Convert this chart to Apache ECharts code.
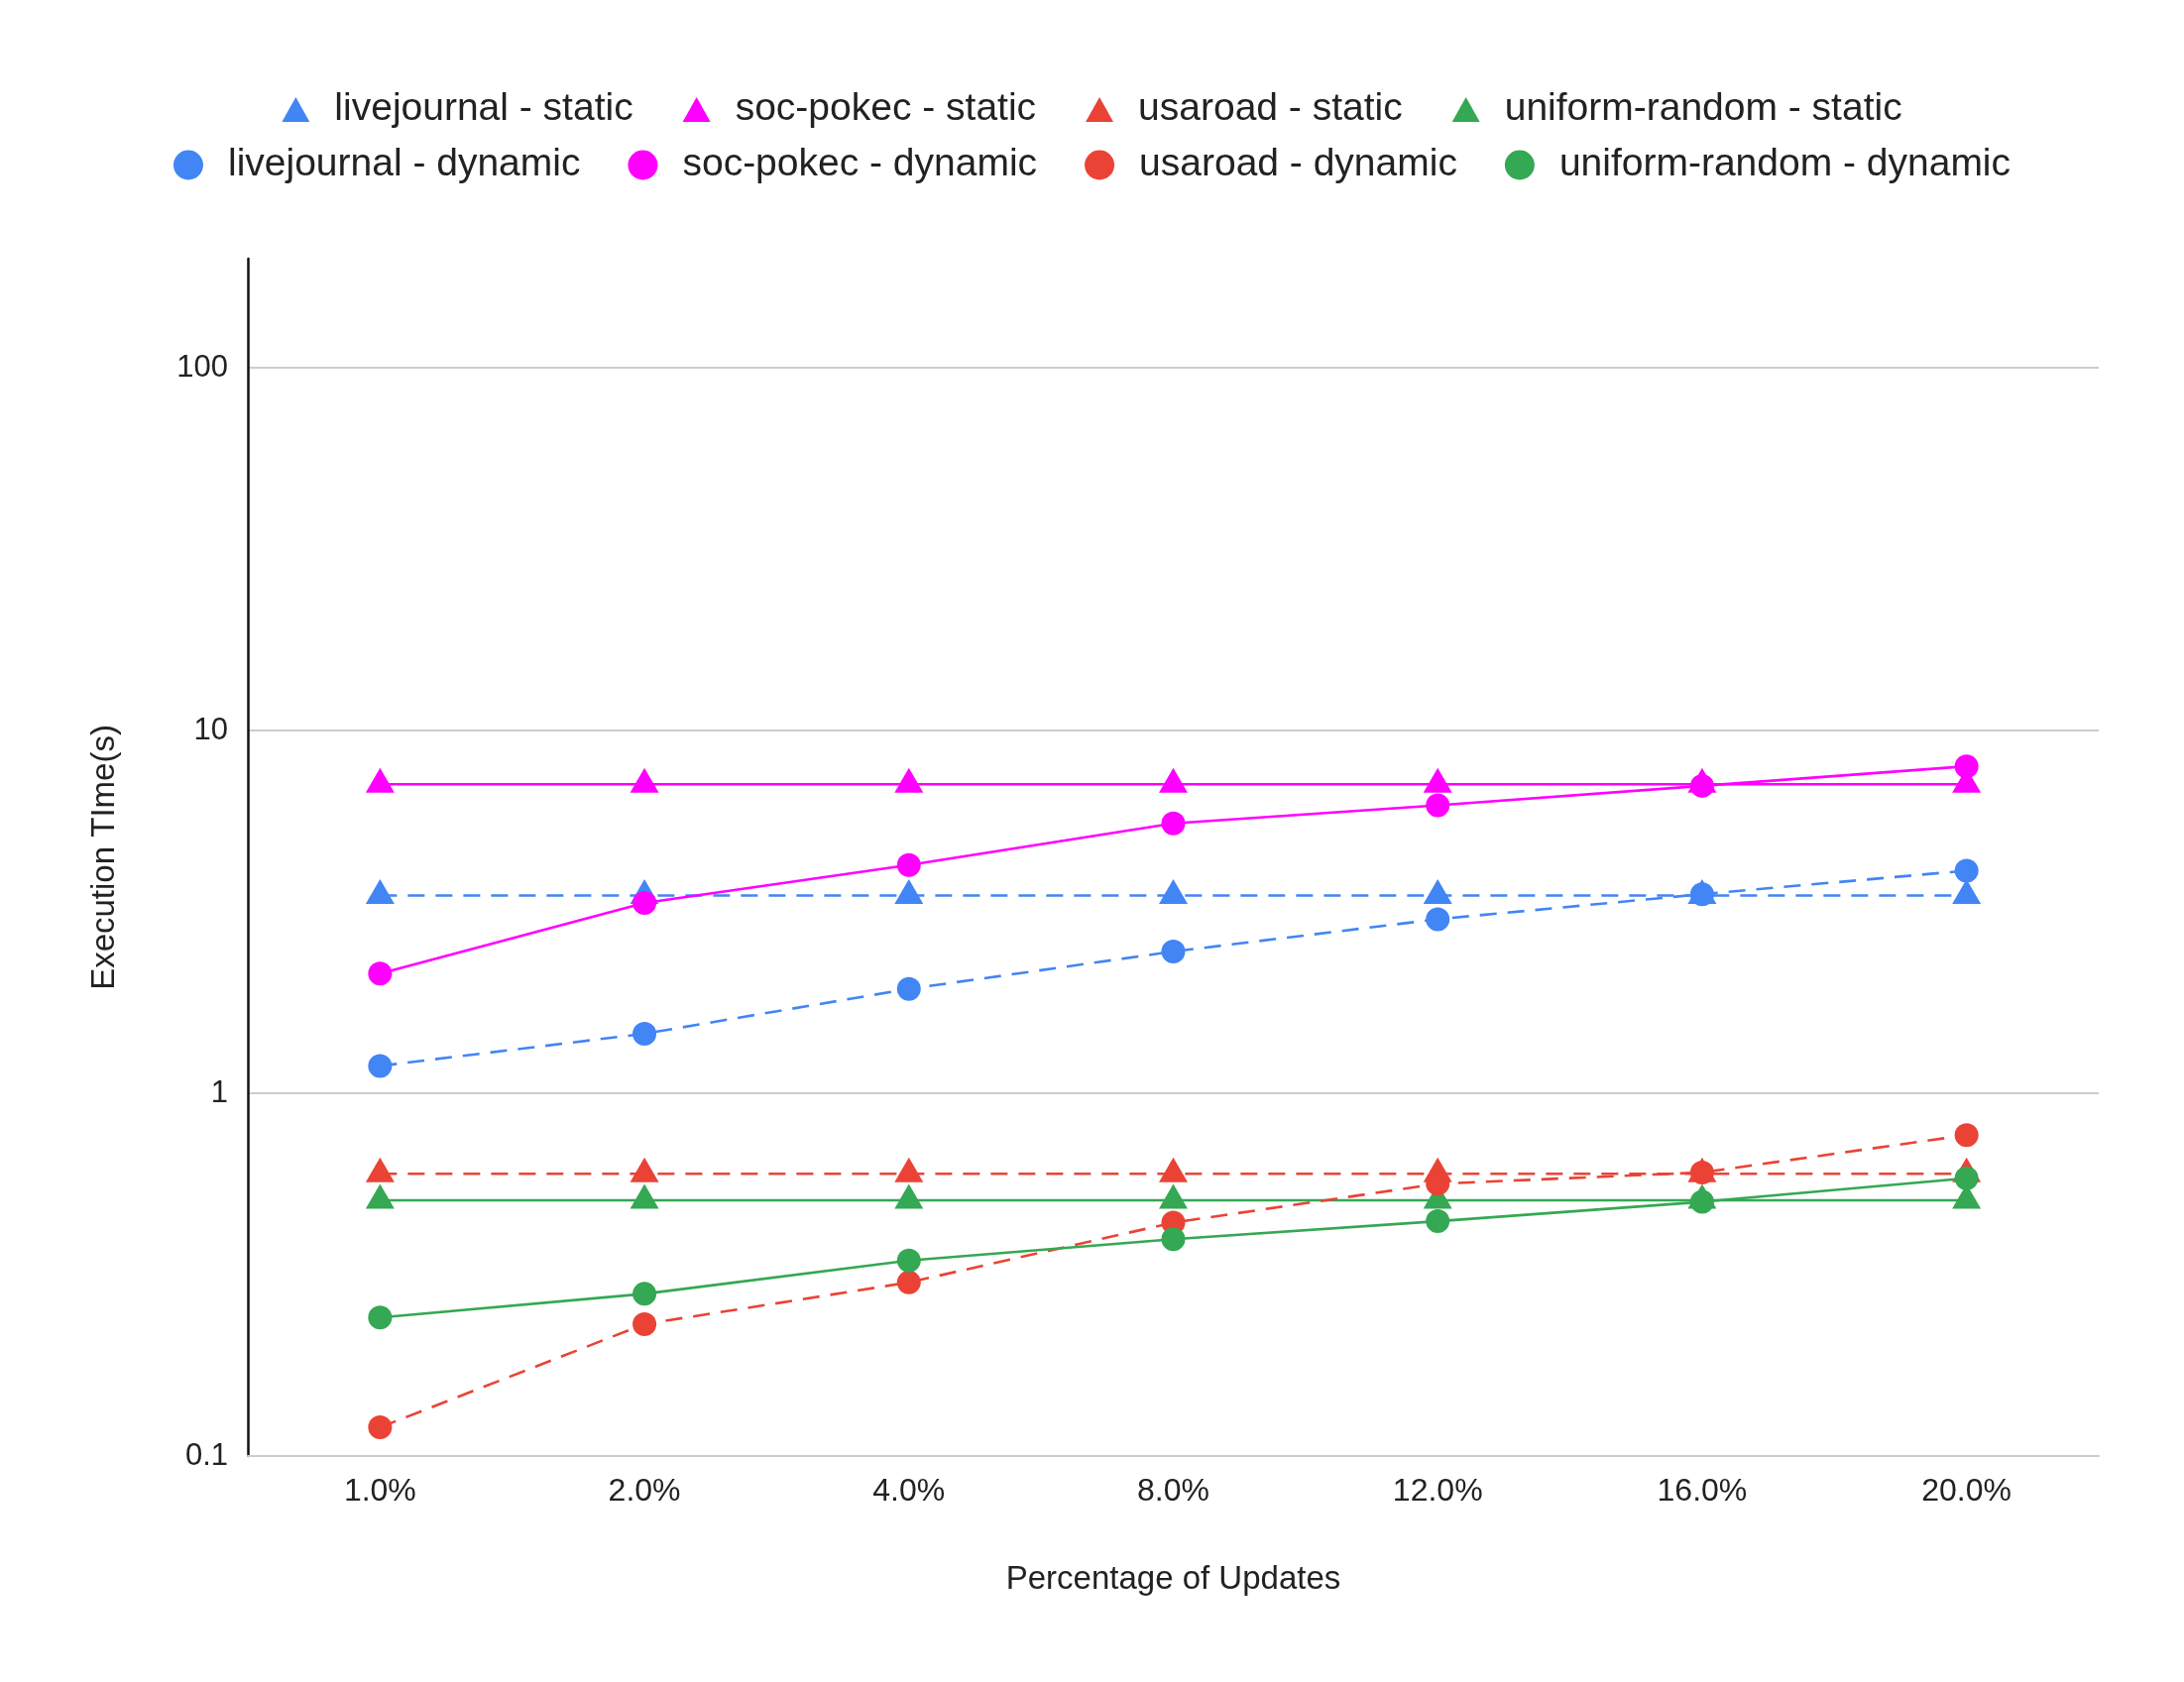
<!DOCTYPE html>
<html><head><meta charset="utf-8">
<script src="https://cdn.jsdelivr.net/npm/echarts@6/dist/echarts.min.js"></script>
<style>html,body{margin:0;padding:0;background:#fff}#c{width:2203px;height:1697px}</style>
</head><body><div id="c"></div>
<script>
const categories = ['1.0%', '2.0%', '4.0%', '8.0%', '12.0%', '16.0%', '20.0%'];
const livejournalStatic = [3.51, 3.51, 3.51, 3.51, 3.51, 3.51, 3.51];
const socPokecStatic = [7.11, 7.11, 7.11, 7.11, 7.11, 7.11, 7.11];
const usaroadStatic = [0.60, 0.60, 0.60, 0.60, 0.60, 0.60, 0.60];
const uniformStatic = [0.507, 0.507, 0.507, 0.507, 0.507, 0.507, 0.507];
const livejournalDynamic = [1.19, 1.46, 1.94, 2.46, 3.02, 3.54, 4.11];
const socPokecDynamic = [2.14, 3.35, 4.26, 5.55, 6.22, 7.04, 7.97];
const usaroadDynamic = [0.120, 0.231, 0.301, 0.440, 0.563, 0.605, 0.767];
const uniformDynamic = [0.241, 0.280, 0.346, 0.396, 0.444, 0.502, 0.583];
const yTickLabels = [0.1, 1, 10, 100];

const FONT = 'Arial, "Liberation Sans", sans-serif';
const BLUE = '#4285F4', PINK = '#FF00FF', RED = '#EA4335', GREEN = '#34A853';

function mkStatic(name, data, color, dashed) {
  return {
    name, type: 'line', data, symbol: 'triangle', symbolSize: [29, 25], symbolOffset: [0, -4],
    itemStyle: { color }, lineStyle: { color, width: 2.6, type: dashed ? [17, 11] : 'solid' },
    animation: false, z: 2
  };
}
function mkDyn(name, data, color, dashed) {
  return {
    name, type: 'line', data, symbol: 'circle', symbolSize: 24,
    itemStyle: { color }, lineStyle: { color, width: 2.6, type: dashed ? [17, 11] : 'solid' },
    animation: false, z: 3
  };
}

const chart = echarts.init(document.getElementById('c'), null, { renderer: 'canvas' });
chart.setOption({
  backgroundColor: '#fff',
  textStyle: { fontFamily: FONT },
  legend: [
    {
      data: ['livejournal - static', 'soc-pokec - static', 'usaroad - static', 'uniform-random - static'],
      top: 86, left: 'center', icon: 'triangle', itemWidth: 28, itemHeight: 25, itemGap: 50,
      symbolKeepAspect: false,
      textStyle: { fontSize: 39, color: '#222', fontFamily: FONT, padding: [0, 0, 0, 20] }
    },
    {
      data: ['livejournal - dynamic', 'soc-pokec - dynamic', 'usaroad - dynamic', 'uniform-random - dynamic'],
      top: 142, left: 'center', icon: 'circle', itemWidth: 30, itemHeight: 30, itemGap: 48,
      textStyle: { fontSize: 39, color: '#222', fontFamily: FONT, padding: [0, 0, 0, 20] }
    }
  ],
  grid: { left: 250, right: 86, top: 261, bottom: 228, containLabel: false },
  xAxis: {
    type: 'category', data: categories, boundaryGap: true,
    name: 'Percentage of Updates', nameLocation: 'middle', nameGap: 108,
    nameTextStyle: { fontSize: 33, color: '#222', fontFamily: FONT },
    axisLine: { show: true, lineStyle: { color: '#cccccc', width: 2 } },
    axisTick: { show: false },
    axisLabel: { fontSize: 32, color: '#222', margin: 20, fontFamily: FONT },
    splitLine: { show: false }
  },
  yAxis: {
    type: 'log', logBase: 10, min: 0.1, max: 200,
    name: 'Execution TIme(s)', nameLocation: 'middle', nameGap: 128, nameRotate: 90,
    nameTextStyle: { fontSize: 33, color: '#222', fontFamily: FONT },
    axisLine: { show: true, lineStyle: { color: '#111', width: 2.5 } },
    axisTick: { show: false },
    axisLabel: {
      fontSize: 31, color: '#222', margin: 20, fontFamily: FONT,
      formatter: function (v) {
        for (const t of yTickLabels) { if (Math.abs(v - t) / t < 1e-6) return String(t); }
        return '';
      }
    },
    splitLine: { show: true, showMaxLine: false, showMinLine: true, lineStyle: { color: '#cccccc', width: 2 } }
  },
  series: [
    mkStatic('livejournal - static', livejournalStatic, BLUE, true),
    mkStatic('soc-pokec - static', socPokecStatic, PINK, false),
    mkStatic('usaroad - static', usaroadStatic, RED, true),
    mkStatic('uniform-random - static', uniformStatic, GREEN, false),
    mkDyn('livejournal - dynamic', livejournalDynamic, BLUE, true),
    mkDyn('soc-pokec - dynamic', socPokecDynamic, PINK, false),
    mkDyn('usaroad - dynamic', usaroadDynamic, RED, true),
    mkDyn('uniform-random - dynamic', uniformDynamic, GREEN, false)
  ]
});
</script>
</body></html>
